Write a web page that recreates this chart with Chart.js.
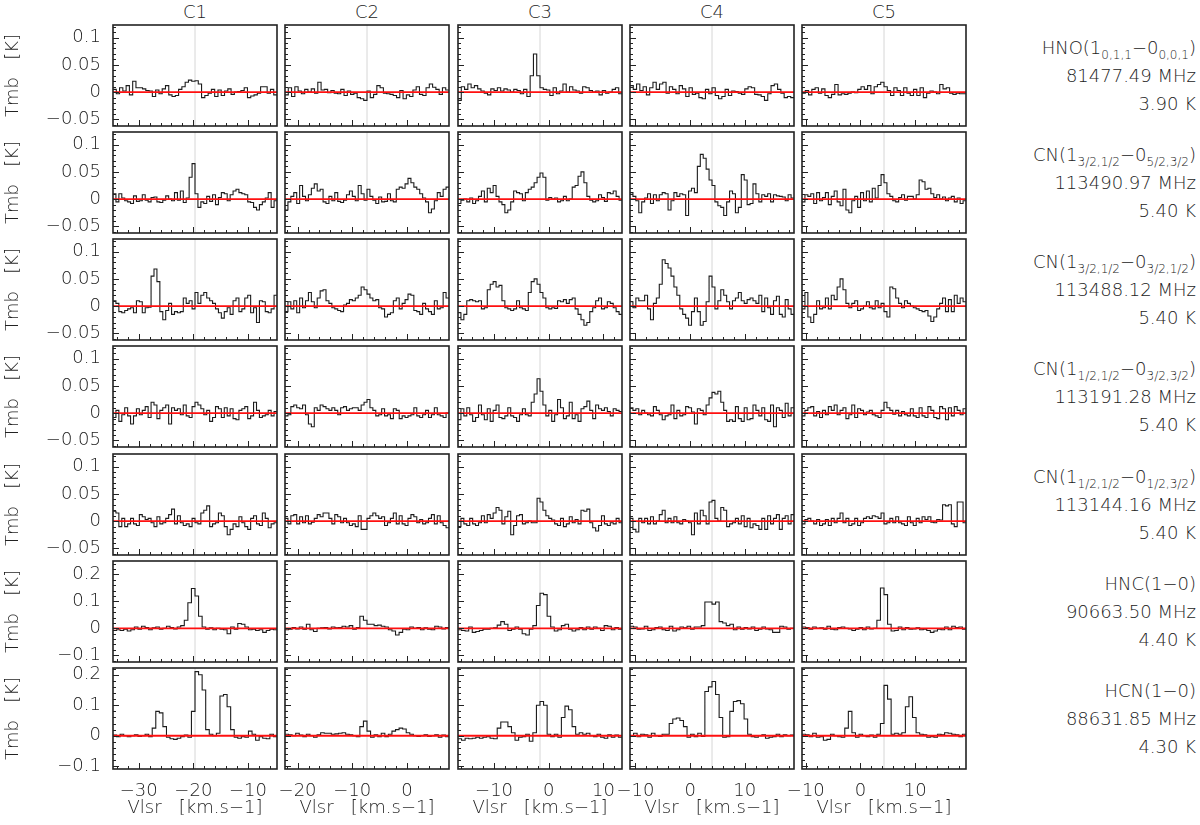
<!DOCTYPE html>
<html>
<head>
<meta charset="utf-8">
<script src="https://cdn.jsdelivr.net/npm/chart.js@4.4.1/dist/chart.umd.min.js"></script>
<style>
  html, body { margin: 0; padding: 0; background: #fff; }
  #page { position: relative; width: 1200px; height: 825px; overflow: hidden;
          font-family: 'DejaVu Sans', 'Liberation Sans', sans-serif; font-weight: 200; color: #222; }
  canvas { position: absolute; }
  .col { position: absolute; top: 1px; width: 164px; text-align: center; font-size: 18px; }
  .lbl { position: absolute; right: 4px; font-size: 18px; line-height: 20px;
         white-space: nowrap; text-align: right; }
  .lbl sub { font-size: 12px; vertical-align: -5px; line-height: 0; }
</style>
</head>
<body>
<div id="page"></div>
<script>
// columns and lines
const columns = ['C1', 'C2', 'C3', 'C4', 'C5'];
const colCenters = [-19.7, -7.3, -1.6, 4.0, 4.3];   // km/s, grey line
const halfSpan = 15;
const xTickVals = [[-30, -20, -10], [-20, -10, 0], [-10, 0, 10], [-10, 0, 10], [-10, 0, 10]];
const xTickText = [['−30', '−20', '−10'], ['−20', '−10', '0'], ['−10', '0', '10'], ['−10', '0', '10'], ['−10', '0', '10']];

const lineNames = [
  'HNO(1<sub>0,1,1</sub>−0<sub>0,0,1</sub>)',
  'CN(1<sub>3/2,1/2</sub>−0<sub>5/2,3/2</sub>)',
  'CN(1<sub>3/2,1/2</sub>−0<sub>3/2,1/2</sub>)',
  'CN(1<sub>1/2,1/2</sub>−0<sub>3/2,3/2</sub>)',
  'CN(1<sub>1/2,1/2</sub>−0<sub>1/2,3/2</sub>)',
  'HNC(1−0)',
  'HCN(1−0)'
];
const lineFreqs = ['81477.49 MHz', '113490.97 MHz', '113488.12 MHz', '113191.28 MHz', '113144.16 MHz', '90663.50 MHz', '88631.85 MHz'];
const lineTemps = ['3.90 K', '5.40 K', '5.40 K', '5.40 K', '5.40 K', '4.40 K', '4.30 K'];

// y ranges (K) and tick labels
const yLimits = [[-0.062, 0.123], [-0.062, 0.123], [-0.062, 0.123], [-0.062, 0.123], [-0.062, 0.123], [-0.125, 0.25], [-0.109, 0.222]];
const yTickSmall = [-0.05, 0, 0.05, 0.1];
const yTickSmallText = ['−0.05', '0', '0.05', '0.1'];
const yTickLarge = [-0.1, 0, 0.1, 0.2];
const yTickLargeText = ['−0.1', '0', '0.1', '0.2'];

// spectra, Tmb in mK, one value per channel across each panel
const hnoC1 = [5,-3,8,2,12,-5,20,8,8,6,3,2,-8,4,-3,6,12,-5,-8,-6,5,10,18,22,20,21,15,-10,-6,-2,5,-8,4,-6,2,6,-4,0,1,3,8,-10,-7,-5,-2,10,10,-2,5,-5];
const hnoC2 = [-5,8,-8,10,2,-3,5,0,6,-2,18,4,5,-1,3,-2,-3,5,-6,2,-4,-2,-10,-12,-15,2,-10,-4,12,8,-2,-3,-4,-6,-10,3,-12,-5,-8,4,10,-4,-6,8,15,9,5,-4,8,4];
const hnoC3 = [-15,10,5,15,8,12,6,2,-2,-5,6,3,8,2,6,4,0,5,3,-3,5,-8,30,70,30,8,5,4,-6,8,-3,2,15,0,10,4,2,-2,10,8,3,0,2,-5,3,-2,0,5,8,-3];
const hnoC4 = [12,5,15,3,10,-5,8,18,5,15,18,-2,10,5,-3,12,6,-8,8,-4,-2,-10,-12,5,-3,8,-6,-12,-8,5,-6,2,1,-2,-4,6,10,8,-4,-5,-8,-15,-3,12,15,5,-2,-10,-8,-10];
const hnoC5 = [-2,3,-5,5,8,-2,6,-6,-10,-4,14,-5,-3,-4,-2,0,-1,5,10,5,12,-3,10,14,18,10,3,-6,8,3,-6,8,-2,-6,5,-6,8,-10,-2,2,0,-3,14,6,8,-2,-4,-2,-3,-3];

const cnaC1 = [10,-5,10,2,-3,-5,-8,6,-4,-3,8,-2,-5,3,4,-5,-6,-2,6,0,-3,12,-2,15,-6,2,40,65,10,-15,-5,-8,5,-4,8,-10,3,12,10,-3,8,15,18,12,10,8,-5,-6,-15,-20,-10,-5,2,12,-15,-3];
const cnaC2 = [-20,-5,5,12,-8,25,5,-3,8,20,28,15,18,-5,-8,5,-3,12,-4,-6,-2,8,15,5,-3,25,10,-2,18,5,-2,-8,4,-5,-4,10,-3,-5,18,22,20,28,38,30,22,18,10,2,-5,-25,-18,-3,12,5,18,22];
const cnaC3 = [-8,-2,0,-5,2,-8,-3,5,15,-5,20,12,25,5,-5,-10,-25,-20,-5,15,12,10,-3,12,18,22,30,40,48,40,-2,3,0,2,-5,-3,5,-3,0,22,25,42,50,30,5,-2,-5,-3,8,3,-4,12,10,15,5,-2];
const cnaC4 = [12,5,-3,-25,-5,2,10,-8,8,-3,8,12,10,-20,-3,12,5,10,8,-30,15,20,12,60,82,75,55,35,25,-5,-12,-15,-30,-5,15,10,-25,-15,45,35,-10,-8,28,10,-5,8,5,10,-5,8,6,5,4,-3,8,2];
const cnaC5 = [-5,8,5,10,-8,12,-3,3,12,-10,5,15,-5,-12,18,-20,-25,-3,5,-15,12,-3,15,-5,20,2,25,45,30,10,5,-3,-5,3,8,-2,5,5,0,8,35,32,18,20,10,3,8,0,4,-3,2,5,-5,2,-8,-3];

const cnbC1 = [10,5,-10,-12,-8,-5,-3,-12,10,8,-12,-3,-2,55,68,45,-10,-25,-8,5,-15,-10,-12,-10,15,5,10,-5,25,5,20,25,15,10,5,-5,-12,-22,-10,-3,-15,10,15,-10,-5,15,20,-12,-3,-30,10,8,-10,-12,-5,20];
const cnbC2 = [-10,8,-5,10,-12,15,-3,10,25,8,-3,15,28,30,10,5,-3,-5,-8,-10,2,5,12,10,15,20,35,30,22,15,10,12,-3,-5,-20,-15,-12,10,15,-5,5,12,22,20,-8,-10,-15,5,-5,-10,-15,10,-5,-3,25,15];
const cnbC3 = [-12,-25,-15,10,12,10,8,10,-5,-3,30,40,45,35,38,10,-3,-5,-8,-5,10,-3,-5,-8,25,45,50,40,25,15,-3,-5,-3,-4,10,8,12,5,12,15,-5,-15,-25,-35,-30,-10,-3,10,15,-5,-3,8,5,-3,-10,-15];
const cnbC4 = [8,-3,15,10,10,20,-5,-25,5,15,40,85,78,70,55,35,20,-5,-15,-22,-35,-10,15,-10,-35,-28,8,55,35,-5,10,30,20,8,-5,10,15,25,10,5,12,15,10,5,20,-10,15,-3,-15,10,18,-15,-20,12,-5,-15];
const cnbC5 = [-5,25,-20,-30,-15,10,-5,-3,15,-5,20,12,35,50,30,5,-3,5,10,-8,-5,0,8,-3,-5,10,-3,5,-10,-20,35,32,15,5,-3,10,5,0,-3,-5,-8,-10,-8,-18,-28,-20,-5,5,15,-10,12,-10,20,5,15,8];

const cncC1 = [-8,5,-15,-3,10,-5,-20,-5,8,-3,5,12,-8,20,15,-10,5,10,15,-20,10,5,8,-3,15,-5,-8,12,20,15,8,-3,5,-15,-8,12,8,-8,10,-5,8,-10,-12,5,8,12,-10,-5,20,5,-8,-5,-3,5,-5,3];
const cncC2 = [-5,-3,12,15,10,8,15,-3,-20,-25,10,5,15,12,8,5,10,5,-3,10,12,5,8,10,10,5,15,20,25,10,5,-5,-3,8,-5,-3,-10,8,5,-10,-5,-8,-5,-3,10,-5,-8,-3,5,-8,-3,10,-3,-5,-8,0];
const cncC3 = [-12,8,-5,10,-3,-15,-8,15,-3,-12,8,-15,5,15,-8,-10,-5,10,-5,-8,-15,-3,8,-3,-5,20,35,63,40,15,-5,5,-15,-3,25,10,-10,-5,20,-10,-3,-15,8,12,22,5,-10,15,8,5,10,3,-5,8,5,3];
const cncC4 = [10,5,8,-3,5,0,-3,-5,12,5,-3,-12,-5,-3,15,-10,5,-5,-3,12,10,2,-20,8,5,-3,15,28,38,35,40,20,5,-15,-12,-15,12,-10,-15,10,-12,-10,15,5,-5,10,-12,-15,15,-25,10,5,-8,18,-5,10];
const cncC5 = [-5,5,10,12,-5,3,-8,5,-3,12,5,15,-3,5,10,-10,-3,15,-8,8,5,-3,2,5,-3,-5,-8,5,20,10,5,-2,5,-5,3,-3,-5,8,-5,-8,10,-5,-8,12,5,-8,-10,12,8,-12,10,-5,12,5,-3,8];

const cndC1 = [18,15,-10,5,-10,-5,5,-5,-8,12,8,3,5,-3,-10,8,-5,-3,5,12,22,-5,10,-3,-8,-5,-10,5,-3,-5,15,20,28,-10,-5,-3,15,10,-10,-25,-15,-5,-10,8,-3,-10,-15,5,10,-5,-8,15,5,-12,-5,-3];
const cndC2 = [5,-5,10,12,-5,8,-3,10,-5,-2,5,12,8,15,15,5,-5,12,8,-3,5,-3,-8,-5,-10,10,-15,-15,5,10,15,10,5,8,-8,-3,5,15,-5,10,-5,-8,5,12,8,-3,3,-5,-3,5,12,-5,10,-3,-8,-12];
const cndC3 = [-10,5,-5,-8,5,-5,-8,-3,10,-3,12,5,15,25,20,-5,8,18,-25,-8,10,12,-5,-3,0,-3,-3,42,35,20,10,5,2,-5,-8,5,-10,-5,8,-3,3,-5,20,18,22,-3,-12,-18,-8,10,-5,-8,-3,-5,5,-3];
const cndC4 = [5,-15,-20,5,-3,5,-5,8,-5,0,12,20,-3,5,-3,8,-3,-5,3,0,-3,-25,15,-5,20,10,-5,35,38,5,0,25,20,-10,-5,-3,5,-5,10,-10,5,-12,-5,-8,-15,5,-15,10,-5,5,12,-15,5,10,-5,12];
const cndC5 = [-5,3,5,0,-5,3,-8,-5,3,-8,5,-3,5,15,-3,5,-8,-5,5,-8,-3,5,8,5,10,8,5,15,-5,-3,5,-3,8,-3,-5,-8,8,-3,-8,5,-3,8,3,8,-2,-3,3,2,30,28,30,-5,-10,35,35,-3];

const hncC1 = [-8,-5,-8,-3,-10,-5,5,-3,8,3,-5,2,5,-3,0,8,3,-2,5,10,30,95,148,120,45,5,-3,2,-5,0,-3,-5,-20,5,-3,18,15,5,-5,-3,-8,-5,-15,-8,-3,-5];
const hncC2 = [-5,-3,3,-2,5,-3,15,-5,-12,0,2,3,-2,5,2,3,8,5,10,-3,3,45,30,15,15,10,12,8,5,-5,-10,-25,-15,-3,-5,5,0,3,-5,2,-3,-5,8,5,-2,3];
const hncC3 = [-5,-8,-10,5,-15,-12,-8,-3,-3,0,2,12,25,15,-8,-3,5,-3,-20,-25,-3,10,85,130,125,45,5,-10,-5,10,15,-3,-10,-5,3,-5,5,-3,5,0,-8,10,8,-5,3,-3];
const hncC4 = [8,5,-3,-2,8,-8,-5,3,5,-5,-8,8,-10,-5,5,2,8,-3,5,5,10,98,98,90,98,25,20,10,15,-5,5,-3,3,-2,5,-8,-3,5,-2,-5,-15,-15,8,5,-3,0];
const hncC5 = [5,3,-3,5,0,2,-3,8,-3,-5,3,5,0,-2,-8,-3,3,-5,5,-2,0,30,150,125,15,-10,-8,5,-5,3,-3,-2,2,-5,-3,-8,-15,-10,-3,-5,5,-5,8,3,5,-3];

const hcnC1 = [2,-3,5,0,-3,0,3,-2,0,5,-3,25,80,75,30,-5,-10,-12,-8,-3,2,-5,80,210,200,150,20,5,0,8,130,135,95,20,-5,-8,-3,-5,15,5,-15,-3,-8,-10,5,-3];
const hcnC2 = [5,3,0,8,2,-3,5,0,-5,3,10,8,8,5,6,8,10,5,3,0,-3,30,48,15,-5,3,-3,8,-3,5,15,20,25,22,10,5,0,-2,0,3,-2,0,3,-5,2,-3];
const hcnC3 = [-10,-15,-8,-10,-8,-5,-8,-5,-3,-8,-10,25,45,45,30,10,-15,-5,-3,5,-18,10,100,112,100,5,-3,5,-5,60,97,85,30,5,10,5,8,0,-3,5,-5,-8,3,-5,2,-5];
const hcnC4 = [0,8,-3,5,3,-5,8,0,-2,5,5,40,55,58,50,30,-5,5,-3,8,-2,145,160,178,135,60,-5,-3,80,112,115,105,55,5,-3,-5,0,3,-8,-5,-3,5,-3,3,0,2];
const hcnC5 = [5,3,-3,8,-5,-3,-15,-12,5,0,-3,-5,25,80,10,-5,5,0,-3,2,-5,5,40,165,120,5,8,5,10,95,128,60,10,5,3,-5,-3,-5,5,3,10,8,5,3,-3,5];

const spectra = [
  [hnoC1, hnoC2, hnoC3, hnoC4, hnoC5],
  [cnaC1, cnaC2, cnaC3, cnaC4, cnaC5],
  [cnbC1, cnbC2, cnbC3, cnbC4, cnbC5],
  [cncC1, cncC2, cncC3, cncC4, cncC5],
  [cndC1, cndC2, cndC3, cndC4, cndC5],
  [hncC1, hncC2, hncC3, hncC4, hncC5],
  [hcnC1, hcnC2, hcnC3, hcnC4, hcnC5]
];

// layout
const colLeft = [113, 285, 458, 630, 802];
const rowTop = [25, 132, 239, 346, 454, 561, 668];
const PW = 164, PH = 101;
const FONT = { family: "'DejaVu Sans', 'Liberation Sans', sans-serif", size: 18, weight: 200 };
const INK = '#222';
const page = document.getElementById('page');

// box + inward ticks on left and bottom
const frame = {
  id: 'frame',
  afterDatasetsDraw(chart, args, o) {
    const { ctx, chartArea: a, scales: { x, y } } = chart;
    ctx.save();
    ctx.strokeStyle = INK;
    ctx.lineWidth = 1;
    ctx.beginPath();
    for (let v = Math.ceil(x.min / 2) * 2; v <= x.max; v += 2) {
      const px = Math.round(x.getPixelForValue(v)) + 0.5;
      const len = v % 10 === 0 ? 6 : 3;
      ctx.moveTo(px, a.bottom);
      ctx.lineTo(px, a.bottom - len);
    }
    for (let k = Math.ceil(y.min / o.minor - 1e-6); k * o.minor <= y.max + 1e-9; k++) {
      const v = k * o.minor;
      const py = Math.round(y.getPixelForValue(v)) + 0.5;
      const major = Math.abs(v / o.major - Math.round(v / o.major)) < 1e-6;
      ctx.moveTo(a.left, py);
      ctx.lineTo(a.left + (major ? 6 : 3), py);
    }
    ctx.stroke();
    ctx.lineWidth = 1.6;
    ctx.strokeRect(a.left, a.top, a.right - a.left, a.bottom - a.top);
    ctx.restore();
  }
};

columns.forEach((name, c) => {
  const d = document.createElement('div');
  d.className = 'col';
  d.style.left = colLeft[c] + 'px';
  d.textContent = name;
  page.appendChild(d);
});

lineNames.forEach((name, r) => {
  [name, lineFreqs[r], lineTemps[r]].forEach((txt, i) => {
    const d = document.createElement('div');
    d.className = 'lbl';
    d.style.top = (rowTop[r] + 13 + i * 28) + 'px';
    d.innerHTML = txt;
    page.appendChild(d);
  });
});

spectra.forEach((row, r) => row.forEach((vals, c) => {
  const L = colLeft[c], T = rowTop[r], B = T + PH, R = L + PW;
  const bottom = r === spectra.length - 1, first = c === 0;
  const padL = first ? 0 : (bottom ? 26 : 3), padR = bottom ? 26 : 3;
  const cl = first ? 0 : L - padL, ct = T - 3;
  const cw = R + padR - cl, ch = (bottom ? 825 : B + 3) - ct;

  const cv = document.createElement('canvas');
  cv.width = cw; cv.height = ch;
  cv.style.left = cl + 'px'; cv.style.top = ct + 'px';
  cv.style.width = cw + 'px'; cv.style.height = ch + 'px';
  page.appendChild(cv);

  const [ymin, ymax] = yLimits[r];
  const big = r >= 5;
  const v0 = colCenters[c], vmin = v0 - halfSpan, vmax = v0 + halfSpan;
  const dv = (vmax - vmin) / vals.length;
  const pts = vals.map((t, k) => ({ x: vmin + k * dv, y: t / 1000 }));
  pts.push({ x: vmax, y: vals[vals.length - 1] / 1000 });

  new Chart(cv, {
    type: 'line',
    data: {
      datasets: [
        { data: [{ x: vmin, y: 0 }, { x: vmax, y: 0 }], borderColor: '#ff1010', borderWidth: 1.8, pointRadius: 0, order: 0 },
        { data: pts, stepped: 'before', borderColor: '#1c1c1c', borderWidth: 1.1, pointRadius: 0, order: 1 },
        { data: [{ x: v0, y: ymin }, { x: v0, y: ymax }], borderColor: '#d6d6d6', borderWidth: 1, pointRadius: 0, order: 2 }
      ]
    },
    options: {
      responsive: false,
      animation: false,
      events: [],
      layout: { padding: { left: first ? 0 : padL, right: padR, top: 3, bottom: bottom ? 0 : 3 } },
      plugins: {
        legend: { display: false },
        tooltip: { enabled: false },
        frame: { minor: big ? 0.02 : 0.01, major: big ? 0.1 : 0.05 }
      },
      scales: {
        x: {
          type: 'linear', min: vmin, max: vmax, display: bottom,
          grid: { display: false, drawTicks: false }, border: { display: false },
          afterBuildTicks: s => { s.ticks = xTickVals[c].map(v => ({ value: v })); },
          ticks: { callback: (v, i) => xTickText[c][i], font: FONT, color: INK, padding: 12, autoSkip: false, maxRotation: 0 },
          title: { display: true, text: 'Vlsr   [km.s−1]', font: FONT, color: INK, padding: { top: 0, bottom: 6 } },
          afterFit: s => { s.height = bottom ? 825 - B : 0; s.paddingLeft = 0; s.paddingRight = 0; }
        },
        y: {
          type: 'linear', min: ymin, max: ymax, display: first,
          grid: { display: false, drawTicks: false }, border: { display: false },
          afterBuildTicks: s => { s.ticks = (big ? yTickLarge : yTickSmall).map(v => ({ value: v })); },
          ticks: { callback: (v, i) => (big ? yTickLargeText : yTickSmallText)[i], font: FONT, color: INK, padding: 12, autoSkip: false },
          title: { display: true, text: 'Tmb   [K]', font: FONT, color: INK, padding: { top: 3, bottom: 0 } },
          afterFit: s => { s.width = first ? L : 0; s.paddingTop = 0; s.paddingBottom = 0; }
        }
      }
    },
    plugins: [frame]
  });
}));
</script>
</body>
</html>
